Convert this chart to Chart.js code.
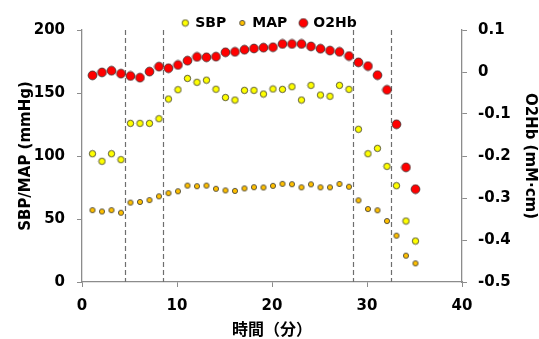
<!DOCTYPE html>
<html>
<head>
<meta charset="utf-8">
<script src="https://cdn.jsdelivr.net/npm/chart.js@4/dist/chart.umd.min.js"></script>
<style>
	html, body { margin: 0; padding: 0; background: #fff; }
	#wrap { width: 539px; height: 339px; }
</style>
</head>
<body>
<div id="wrap"><canvas id="chart" width="539" height="339"></canvas></div>
<script>
// time (min) of each sample
const times = [ 1.1, 2.1, 3.1, 4.1, 5.1, 6.1, 7.1, 8.1, 9.1, 10.1, 11.1, 12.1, 13.1, 14.1, 15.1, 16.1, 17.1, 18.1, 19.1, 20.1, 21.1, 22.1, 23.1, 24.1, 25.1, 26.1, 27.1, 28.1, 29.1, 30.1, 31.1, 32.1, 33.1, 34.1, 35.1 ];

// SBP (mmHg)
const sbp = [ 101.8, 95.8, 101.8, 97.1, 125.9, 125.9, 125.9, 129.6, 145.2, 152.6, 161.6, 158.5, 160.2, 153, 146.4, 144.4, 152.1, 152.1, 149.2, 153.2, 152.9, 155, 144.4, 156.1, 148.4, 147.4, 156.1, 152.9, 121.2, 101.8, 106.1, 91.8, 76.4, 48.4, 32.5 ];

// MAP (mmHg)
const map = [ 57, 56, 57, 55, 63, 63.5, 65, 68, 70.5, 72, 76.5, 76, 76.5, 74, 72.7, 72.3, 74.3, 75.2, 75, 76.3, 77.9, 77.6, 75.1, 77.5, 75.1, 75.1, 77.8, 75.6, 64.8, 57.9, 56.9, 48.4, 36.8, 20.9, 14.8 ];

// O2Hb (mM·cm)
const o2hb = [ -0.008, -0.001, 0.003, -0.004, -0.0095, -0.0135, 0.001, 0.0127, 0.009, 0.0167, 0.027, 0.036, 0.035, 0.0365, 0.047, 0.048, 0.053, 0.056, 0.058, 0.059, 0.0667, 0.0667, 0.0667, 0.061, 0.0555, 0.051, 0.048, 0.038, 0.023, 0.014, -0.0075, -0.0425, -0.1245, -0.227, -0.279 ];

// phase boundaries (min)
const phaseLines = [ 4.5, 8.5, 28.5, 32.5 ];

// axis ranges / ticks
const xTicks = [ 0, 10, 20, 30, 40 ];
const leftTicks = [ 0, 50, 100, 150, 200 ];
const rightTicks = [ -0.5, -0.4, -0.3, -0.2, -0.1, 0, 0.1 ];

const axisColor = '#8c8c8c';
const fontFamily = '"DejaVu Sans", sans-serif';
const cjkFamily = '"Noto Sans CJK JP", "DejaVu Sans", sans-serif';

function toPoints( ys ) {
	return times.map( ( t, i ) => ( { x: t, y: ys[ i ] } ) );
}

// little circle images so the legend keeps each series' marker size
function dot( r, fill ) {
	const c = document.createElement( 'canvas' );
	const s = Math.ceil( r * 2 + 2 );
	c.width = s;
	c.height = s;
	const ctx = c.getContext( '2d' );
	ctx.beginPath();
	ctx.arc( s / 2, s / 2, r, 0, Math.PI * 2 );
	ctx.fillStyle = fill;
	ctx.fill();
	ctx.lineWidth = 0.8;
	ctx.strokeStyle = '#333';
	ctx.stroke();
	return c;
}

const series = [
	{ label: 'SBP', data: sbp, color: '#ffff00', r: 3.2, axis: 'y' },
	{ label: 'MAP', data: map, color: '#ffc000', r: 2.6, axis: 'y' },
	{ label: 'O2Hb', data: o2hb, color: '#ff0000', r: 4.4, axis: 'y2' }
];

const phaseLinePlugin = {
	id: 'phaseLines',
	beforeDatasetsDraw( chart ) {
		const { ctx, chartArea, scales } = chart;
		ctx.save();
		ctx.strokeStyle = '#6e6e6e';
		ctx.lineWidth = 1.2;
		ctx.setLineDash( [ 5, 3 ] );
		phaseLines.forEach( ( v ) => {
			const x = Math.round( scales.x.getPixelForValue( v ) ) + 0.5;
			ctx.beginPath();
			ctx.moveTo( x, chartArea.top );
			ctx.lineTo( x, chartArea.bottom );
			ctx.stroke();
		} );
		ctx.restore();
	}
};

new Chart( document.getElementById( 'chart' ), {
	type: 'scatter',
	data: {
		datasets: series.map( ( s ) => ( {
			label: s.label,
			data: toPoints( s.data ),
			yAxisID: s.axis,
			backgroundColor: s.color,
			borderColor: '#333',
			borderWidth: 0.8,
			pointRadius: s.r,
			pointHoverRadius: s.r,
			pointStyle: dot( s.r, s.color )
		} ) )
	},
	options: {
		responsive: false,
		animation: false,
		events: [],
		layout: { padding: { top: 3, left: 0, right: 0, bottom: 0 } },
		font: { family: fontFamily, weight: 'bold', size: 14 },
		plugins: {
			tooltip: { enabled: false },
			legend: {
				position: 'top',
				maxHeight: 27,
				labels: {
					usePointStyle: true,
					boxWidth: 6,
					padding: 13,
					color: '#000',
					font: { family: fontFamily, weight: 'bold', size: 14 }
				}
			}
		},
		scales: {
			x: {
				type: 'linear',
				min: xTicks[ 0 ],
				max: xTicks[ xTicks.length - 1 ],
				afterBuildTicks( scale ) {
					scale.ticks = xTicks.map( ( v ) => ( { value: v } ) );
				},
				afterFit( scale ) {
					scale.height = 57;
				},
				border: { display: true, color: axisColor, width: 1.3 },
				grid: {
					display: true,
					drawOnChartArea: false,
					drawTicks: true,
					tickLength: 5,
					color: axisColor
				},
				ticks: {
					padding: 10,
					color: '#000',
					font: { family: fontFamily, weight: 'bold', size: 15 }
				},
				title: {
					display: true,
					text: '時間（分）',
					color: '#000',
					padding: { top: 0, bottom: 0 },
					font: { family: cjkFamily, weight: 'bold', size: 16 }
				}
			},
			y: {
				type: 'linear',
				position: 'left',
				min: leftTicks[ 0 ],
				max: leftTicks[ leftTicks.length - 1 ],
				afterBuildTicks( scale ) {
					scale.ticks = leftTicks.map( ( v ) => ( { value: v } ) );
				},
				afterFit( scale ) {
					scale.width = 82;
				},
				border: { display: true, color: axisColor, width: 1.3 },
				grid: {
					display: true,
					drawOnChartArea: false,
					drawTicks: true,
					tickLength: 5,
					color: axisColor
				},
				ticks: {
					padding: 12,
					color: '#000',
					font: { family: fontFamily, weight: 'bold', size: 15 }
				},
				title: {
					display: true,
					text: 'SBP/MAP (mmHg)',
					color: '#000',
					padding: { top: 17, bottom: 0 },
					font: { family: fontFamily, weight: 'bold', size: 15 }
				}
			},
			y2: {
				type: 'linear',
				position: 'right',
				min: rightTicks[ 0 ],
				max: rightTicks[ rightTicks.length - 1 ],
				afterBuildTicks( scale ) {
					scale.ticks = rightTicks.map( ( v ) => ( { value: v } ) );
				},
				afterFit( scale ) {
					scale.width = 77;
				},
				border: { display: true, color: axisColor, width: 1.3 },
				grid: {
					display: true,
					drawOnChartArea: false,
					drawTicks: true,
					tickLength: 5,
					color: axisColor
				},
				ticks: {
					padding: 11,
					color: '#000',
					font: { family: fontFamily, weight: 'bold', size: 15 },
					callback: ( v ) => String( Math.round( v * 10 ) / 10 )
				},
				title: {
					display: true,
					text: 'O2Hb (mM·cm)',
					color: '#000',
					padding: { top: 0, bottom: 0 },
					font: { family: fontFamily, weight: 'bold', size: 15 }
				}
			}
		}
	},
	plugins: [ phaseLinePlugin ]
} );
</script>
</body>
</html>
